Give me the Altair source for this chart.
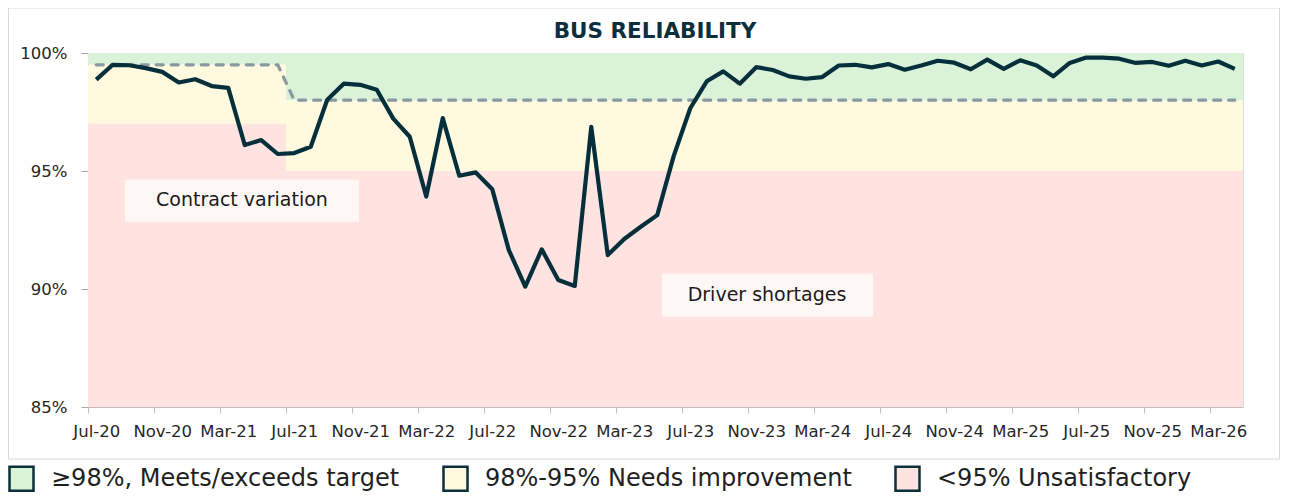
import altair as alt
import pandas as pd

# ---- data ----
months = pd.date_range("2020-07-01", periods=70, freq="MS").strftime("%b-%y").tolist()

reliability = [
    98.87, 99.50, 99.48, 99.36, 99.20, 98.75, 98.89, 98.60, 98.52, 96.10,
    96.31, 95.72, 95.76, 96.03, 98.02, 98.70, 98.65, 98.44, 97.22, 96.45,
    93.92, 97.24, 94.80, 94.94, 94.23, 91.66, 90.10, 91.68, 90.38, 90.13,
    96.87, 91.44, 92.12, 92.64, 93.13, 95.64, 97.66, 98.80, 99.22, 98.70,
    99.40, 99.28, 99.01, 98.91, 98.98, 99.47, 99.50, 99.39, 99.53, 99.29,
    99.47, 99.67, 99.59, 99.31, 99.72, 99.33, 99.69, 99.47, 99.01, 99.58,
    99.81, 99.80, 99.76, 99.58, 99.62, 99.46, 99.67, 99.47, 99.64, 99.33,
]
target = [99.5] * 12 + [98.0] * 58

band_names = ["≥98%, Meets/exceeds target", "98%-95% Needs improvement", "<95% Unsatisfactory"]
band_colors = ["#daf2d8", "#fffadf", "#ffe3e0"]
# periods: first 12 months (old contract), then the rest
band_start = [-0.5, -0.5, -0.5, 11.5, 11.5, 11.5]
band_end = [11.5, 11.5, 11.5, 69.5, 69.5, 69.5]
band_lo = [99.5, 97.0, 85.0, 98.0, 95.0, 85.0]
band_hi = [100.0, 99.5, 97.0, 100.0, 98.0, 95.0]
band_cat = band_names * 2

note_text = ["Contract variation", "Driver shortages"]
note_x = [8.83, 40.65]
note_y = [93.78, 89.76]
note_x1 = [1.74, 34.29]
note_x2 = [15.92, 47.08]
note_y1 = [94.63, 90.65]
note_y2 = [92.85, 88.83]

tick_idx = list(range(0, 70, 4))
y_ticks = [85, 90, 95, 100]
title_text = "BUS RELIABILITY"

# ---- tables ----
series = pd.DataFrame({"i": list(range(70)), "month": months,
                       "value": reliability, "target": target})
bands = pd.DataFrame({"x1": band_start, "x2": band_end, "lo": band_lo,
                      "hi": band_hi, "cat": band_cat})
notes = pd.DataFrame({"text": note_text, "x": note_x, "y": note_y,
                      "x1": note_x1, "x2": note_x2, "y1": note_y1, "y2": note_y2})

label_expr = "[" + ",".join("'" + m + "'" for m in months) + "][datum.value]"

FONT = "DejaVu Sans"
xscale = alt.Scale(domain=[-0.5, 69.5], nice=False, zero=False)
yscale = alt.Scale(domain=[85, 100], nice=False, zero=False)

half_band = 1155 / 70 / 2

x_axis = alt.Axis(values=tick_idx, labelExpr=label_expr, title=None, grid=False,
                  tickOffset=-half_band, labelOffset=half_band, tickSize=6,
                  tickColor="#bfbfbf", domainColor="#bfbfbf", labelPadding=10,
                  labelFont=FONT, labelFontSize=16.5, labelColor="#262626")
y_axis = alt.Axis(values=y_ticks, labelExpr="datum.value + '%'", title=None, grid=False,
                  tickSize=7, tickColor="#a6a6a6", domainColor="#a6a6a6", labelPadding=14,
                  labelFont=FONT, labelFontSize=16.5, labelColor="#262626")

frame = alt.Chart(pd.DataFrame({"k": [0]})).mark_rect(
    fill="transparent", stroke="#d9d9d9", strokeWidth=1
).encode(x=alt.value(-79.5), x2=alt.value(1191.5), y=alt.value(-45), y2=alt.value(406))

title_layer = alt.Chart(pd.DataFrame({"t": [title_text]})).mark_text(
    font=FONT, fontSize=21.5, fontWeight="bold", color="#0d2f3c",
    align="center", baseline="alphabetic"
).encode(x=alt.value(567), y=alt.value(-15), text="t:N")

band_layer = alt.Chart(bands).mark_rect().encode(
    x=alt.X("x1:Q", scale=xscale, axis=x_axis),
    x2="x2:Q",
    y=alt.Y("lo:Q", scale=yscale, axis=y_axis),
    y2="hi:Q",
    color=alt.Color("cat:N", scale=alt.Scale(domain=band_names, range=band_colors),
                    legend=alt.Legend(orient="none", legendX=-80, legendY=412,
                                      direction="horizontal", title=None,
                                      symbolType="square", symbolSize=576,
                                      symbolStrokeColor="#0d2f3a", symbolStrokeWidth=2.5,
                                      symbolOpacity=1, labelFont=FONT,
                                      labelFontSize=24, labelColor="#1f1f1f",
                                      labelOffset=16, columnPadding=38, padding=0,
                                      labelLimit=600)),
)

note_box = alt.Chart(notes).mark_rect(fill="#fff7f6", opacity=1).encode(
    x=alt.X("x1:Q", scale=xscale), x2="x2:Q",
    y=alt.Y("y1:Q", scale=yscale), y2="y2:Q",
)
note_txt = alt.Chart(notes).mark_text(
    font=FONT, fontSize=19, color="#1a1a1a", align="center", baseline="middle"
).encode(x=alt.X("x:Q", scale=xscale), y=alt.Y("y:Q", scale=yscale), text="text:N")

target_line = alt.Chart(series).mark_line(
    color="#8899a2", strokeWidth=3.2, strokeDash=[7, 8], strokeCap="round"
).encode(x=alt.X("i:Q", scale=xscale), y=alt.Y("target:Q", scale=yscale))

actual_line = alt.Chart(series).mark_line(
    color="#062f3c", strokeWidth=4.2, strokeJoin="round"
).encode(x=alt.X("i:Q", scale=xscale), y=alt.Y("value:Q", scale=yscale))

chart = alt.layer(frame, title_layer, band_layer, note_box, note_txt,
                  target_line, actual_line).properties(
    width=1155, height=354,
    autosize=alt.AutoSizeParams(type="none"),
    padding={"left": 80, "top": 45, "right": 38, "bottom": 89},
).configure_view(stroke=None).configure(background="white")

chart.save("out.html", embed_options={"renderer": "svg", "actions": False})
